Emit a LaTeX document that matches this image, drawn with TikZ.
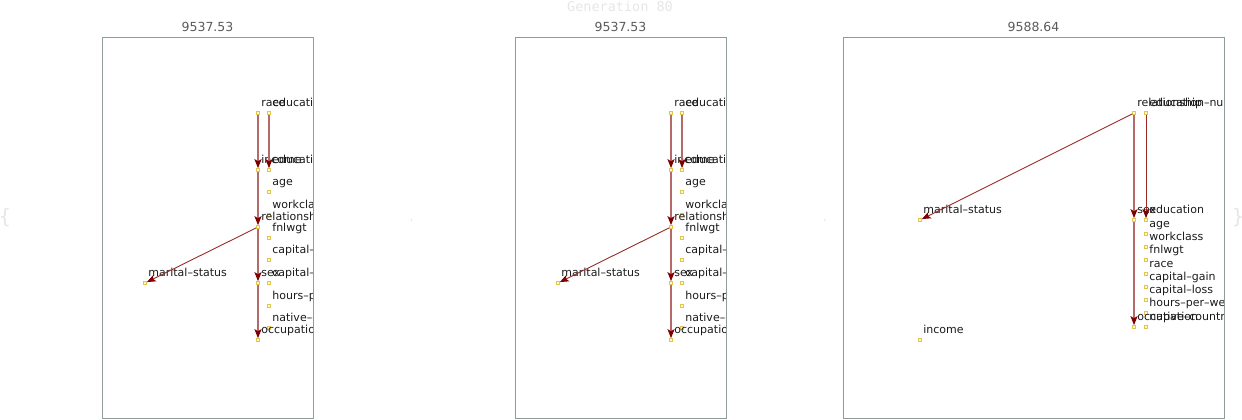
\documentclass[tikz,border=0pt]{standalone}
\usepackage{fontspec}
\setmainfont{DejaVu Sans}
\newfontfamily\gmono{DejaVu Sans Mono}
\usetikzlibrary{arrows.meta}
\definecolor{frameC}{HTML}{8E9C9C}
\definecolor{titleC}{HTML}{5A5A5A}
\definecolor{labelC}{HTML}{1A1A1A}
\definecolor{faintC}{HTML}{E6E6E6}
\definecolor{edgeL}{HTML}{B56A6A}
\definecolor{edgeD}{HTML}{9A2A2A}
\definecolor{tipC}{HTML}{7E0000}
\definecolor{sqD}{HTML}{E2C64A}
\definecolor{sqF}{HTML}{FFF8D0}
\newcommand\vn[4]{%
  \node[vnode] (#1) at (#2,#3) {};
  \node[lbl] (#1-t) at (#2+3.2,#3-6.5) {#4};}
\newcommand\panelA[1]{%
  \vn{#1race}{258}{113}{race}
  \vn{#1education}{269}{113}{education}
  \vn{#1income}{258}{170}{income}
  \vn{#1edunum}{269}{170}{education–num}
  \vn{#1age}{269}{192}{age}
  \vn{#1workclass}{269}{215}{workclass}
  \vn{#1relationship}{258}{227}{relationship}
  \vn{#1fnlwgt}{269}{238}{fnlwgt}
  \vn{#1capgain}{269}{260}{capital–gain}
  \vn{#1sex}{258}{283}{sex}
  \vn{#1caploss}{269}{283}{capital–loss}
  \vn{#1hours}{269}{306}{hours–per–week}
  \vn{#1native}{269}{328}{native–country}
  \vn{#1occupation}{258}{340}{occupation}
  \vn{#1marital}{145}{283}{marital–status}
  \draw[ethick] (#1race) -- (#1income);
  \draw[ethick] (#1education) -- (#1edunum);
  \draw[ethick] (#1income) -- (#1relationship);
  \draw[ethick] (#1relationship) -- (#1sex);
  \draw[ethin] (#1relationship) -- (#1marital);
  \draw[ethick] (#1sex) -- (#1occupation);
}
\begin{document}
\begin{tikzpicture}[x=1pt,y=-1pt,
  vnode/.style={draw=sqD, fill=sqF, line width=0.6pt, minimum size=3pt, inner sep=0pt},
  lbl/.style={anchor=base west, inner sep=0pt, text=labelC, font=\fontsize{11}{11}\selectfont},
  title/.style={anchor=base, inner sep=0pt, text=titleC, font=\fontsize{12.5}{12.5}\selectfont},
  faint/.style={inner sep=0pt, text=faintC},
  panel/.style={draw=frameC, line width=0.9pt},
  ethick/.style={draw=edgeL, line width=1.7pt, -{Stealth[length=9pt,width=7pt,inset=2pt,color=tipC]}},
  ethin/.style={draw=edgeD, line width=0.9pt, -{Stealth[length=9pt,width=7pt,inset=2pt,color=tipC]}}]
\useasboundingbox (0,0) rectangle (1242,420);

\node[faint, anchor=base, font=\gmono\fontsize{13.5}{13.5}\selectfont] (gen) at (620,12) {Generation 80};
\node[faint, font=\fontsize{20}{20}\selectfont] (lbr) at (5,218) {\{};
\node[faint, font=\fontsize{20}{20}\selectfont] (rbr) at (1238,218) {\}};
\node[faint, font=\fontsize{11}{11}\selectfont] (c1) at (411.5,220) {,};
\node[faint, font=\fontsize{11}{11}\selectfont] (c2) at (825,220) {,};

% panel 1
\node[title] (t1) at (207.5,32) {9537.53};
\begin{scope}
\clip (102,37) rectangle (313,418);
\panelA{a}
\end{scope}
\draw[panel] (102,37) rectangle (313,418);

% panel 2
\node[title] (t2) at (620.5,32) {9537.53};
\begin{scope}[xshift=413pt]
\clip (102,37) rectangle (313,418);
\panelA{b}
\end{scope}
\draw[panel] (515,37) rectangle (726,418);

% panel 3
\node[title] (t3) at (1033.5,32) {9588.64};
\begin{scope}
\clip (843,37) rectangle (1224,418);
\vn{crelationship}{1134}{113}{relationship}
\vn{cedunum}{1146}{113}{education–num}
\vn{cmarital}{920}{220}{marital–status}
\vn{csex}{1134}{220}{sex}
\vn{ceducation}{1146}{220}{education}
\vn{cage}{1146}{234}{age}
\vn{cworkclass}{1146}{247}{workclass}
\vn{cfnlwgt}{1146}{260}{fnlwgt}
\vn{crace}{1146}{274}{race}
\vn{ccapgain}{1146}{287}{capital–gain}
\vn{ccaploss}{1146}{300}{capital–loss}
\vn{chours}{1146}{313}{hours–per–week}
\vn{cnative}{1146}{327}{native–country}
\vn{coccupation}{1134}{327}{occupation}
\vn{cincome}{920}{340}{income}
\draw[ethin] (crelationship) -- (cmarital);
\draw[ethick] (crelationship) -- (csex);
\draw[ethin] (cedunum) -- (ceducation);
\draw[ethick] (csex) -- (coccupation);
\end{scope}
\draw[panel] (843,37) rectangle (1224,418);
\end{tikzpicture}
\end{document}
